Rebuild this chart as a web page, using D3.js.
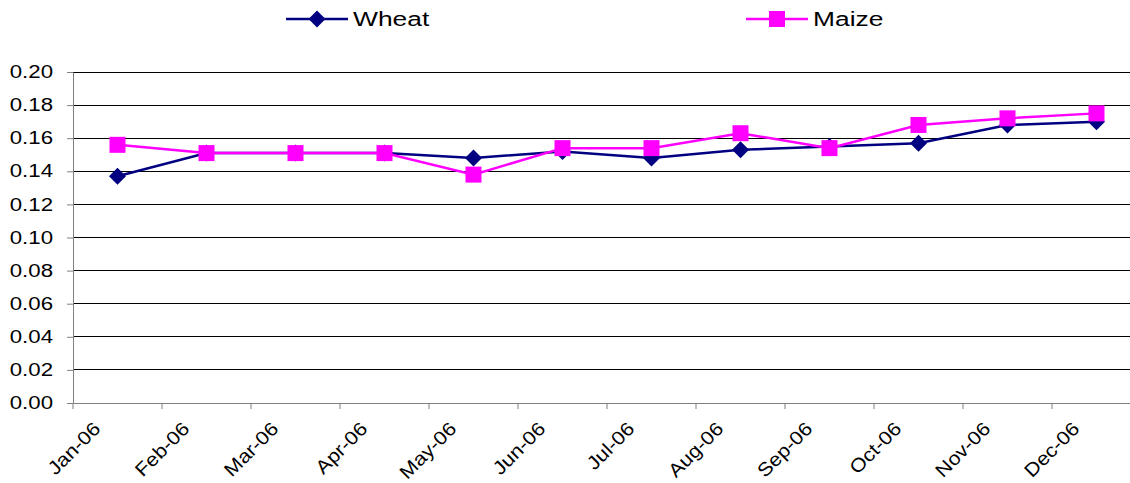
<!DOCTYPE html>
<html><head><meta charset="utf-8">
<script src="https://cdn.jsdelivr.net/npm/d3@7"></script>
<style>html,body{margin:0;padding:0;background:#fff;overflow:hidden}</style>
</head><body><svg id="c" width="1130" height="483"></svg>
<script>
const categories = ["Jan-06","Feb-06","Mar-06","Apr-06","May-06","Jun-06","Jul-06","Aug-06","Sep-06","Oct-06","Nov-06","Dec-06"];
const wheat = [0.137,0.151,0.151,0.151,0.148,0.152,0.148,0.153,0.155,0.157,0.168,0.170];
const maize = [0.156,0.151,0.151,0.151,0.138,0.154,0.154,0.163,0.154,0.168,0.172,0.175];
const yTicks = [0,0.02,0.04,0.06,0.08,0.10,0.12,0.14,0.16,0.18,0.20];

const svg = d3.select("#c");
const font = "Liberation Sans, Arial, sans-serif";
const SX = 1.27;
const L = 73, R = 1141, T = 72, B = 403;
const x = d3.scaleBand().domain(categories).range([L, R]);
const y = d3.scaleLinear().domain([0, 0.2]).range([B, T]);

// gridlines
svg.append("g").selectAll("line").data(yTicks.filter(d => d > 0)).join("line")
  .attr("x1", L).attr("x2", R).attr("y1", d => y(d)).attr("y2", d => y(d))
  .attr("stroke", "#000").attr("stroke-width", 1).attr("shape-rendering", "crispEdges");

// y axis
const ya = svg.append("g").attr("transform", `translate(${L},0)`)
  .call(d3.axisLeft(y).tickValues(yTicks).tickFormat(d3.format(".2f")).tickSize(6).tickSizeOuter(0));
ya.select(".domain").attr("stroke", "#808080");
ya.selectAll(".tick line").attr("stroke", "#808080");
ya.selectAll("text").attr("font-family", font).attr("font-size", 17.5).attr("fill", "#000")
  .attr("x", 0).attr("transform", `translate(-20,0) scale(${SX},1)`);

// x axis
const xa = svg.append("g").attr("transform", `translate(0,${B})`)
  .call(d3.axisBottom(x).tickSize(0).tickSizeOuter(0));
xa.select(".domain").attr("stroke", "#808080");
xa.selectAll(".tick line").remove();
xa.selectAll(".tick").each(function(d){
  d3.select(this).append("line").attr("x1", -x.bandwidth()/2).attr("x2", -x.bandwidth()/2)
    .attr("y1", 0).attr("y2", 6).attr("stroke", "#808080");
});
xa.selectAll("text").attr("font-family", font).attr("font-size", 19).attr("fill", "#000")
  .attr("text-anchor", "end").attr("dy", 0).attr("y", 0)
  .attr("transform", `translate(-16,27) rotate(-45) scale(1.12,1)`);

const line = d3.line().x((d, i) => x(categories[i]) + x.bandwidth()/2).y(d => y(d));

function series(data, color, shape) {
  svg.append("path").datum(data).attr("d", line).attr("fill", "none")
    .attr("stroke", color).attr("stroke-width", 2.5);
  svg.append("g").selectAll("path").data(data).join("path")
    .attr("transform", (d, i) => `translate(${x(categories[i]) + x.bandwidth()/2},${y(d)})`)
    .attr("d", shape).attr("fill", color);
}
const diamond = "M0,-8.5L8.5,0L0,8.5L-8.5,0Z";
const square = "M-8,-8H8V8H-8Z";
series(wheat, "#000080", diamond);
series(maize, "#FF00FF", square);

// legend
const leg = [{name:"Wheat", color:"#000080", shape:diamond, x:286},{name:"Maize", color:"#FF00FF", shape:square, x:746}];
leg.forEach(l => {
  const g = svg.append("g").attr("transform", `translate(${l.x},19)`);
  g.append("line").attr("x1", 0).attr("x2", 62).attr("stroke", l.color).attr("stroke-width", 2.5);
  g.append("path").attr("d", l.shape).attr("transform", "translate(31,0)").attr("fill", l.color);
  g.append("text").attr("transform", `translate(67,7) scale(1.32,1)`)
    .attr("font-family", font).attr("font-size", 20).text(l.name);
});
</script></body></html>
